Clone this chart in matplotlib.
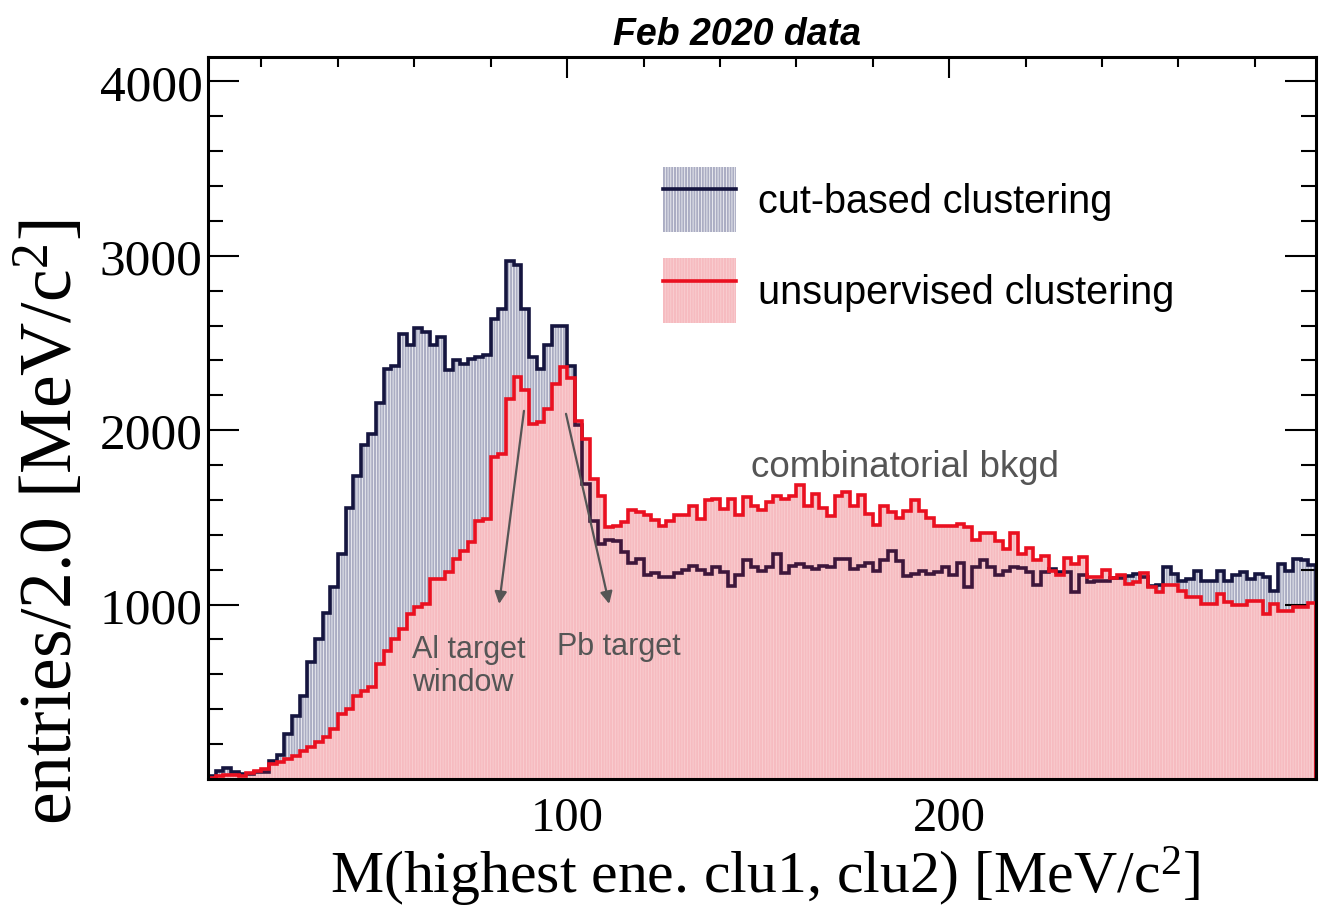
import numpy as np
import matplotlib
matplotlib.use("Agg")
import matplotlib.pyplot as plt
from matplotlib.patches import Patch
from matplotlib.lines import Line2D
from matplotlib.legend_handler import HandlerTuple
from matplotlib.ticker import MultipleLocator, FixedLocator

# binning, 2.0 MeV/c^2 per bin
x_lo, x_hi, bin_w = 6.0, 296.0, 2.0
edges = np.arange(x_lo, x_hi + bin_w / 2, bin_w)

# entries per bin, cut-based clustering
cut_based = [
    19, 48, 61, 42, 29, 29, 38, 38, 105, 138,
    258, 363, 478, 673, 803, 952, 1103, 1291, 1553, 1740,
    1916, 1979, 2157, 2352, 2371, 2553, 2486, 2586, 2563, 2486,
    2534, 2343, 2400, 2381, 2410, 2419, 2433, 2639, 2697, 2968,
    2945, 2697, 2419, 2352, 2486, 2597, 2597, 2371, 2030, 1692,
    1480, 1350, 1370, 1367, 1300, 1240, 1260, 1170, 1180, 1160,
    1160, 1180, 1200, 1224, 1200, 1176, 1214, 1186, 1109, 1167,
    1253, 1214, 1190, 1214, 1291, 1182, 1224, 1230, 1214, 1205,
    1224, 1214, 1262, 1262, 1205, 1224, 1239, 1190, 1253, 1310,
    1250, 1163, 1176, 1195, 1176, 1185, 1214, 1171, 1239, 1100,
    1214, 1258, 1218, 1171, 1195, 1218, 1208, 1186, 1113, 1186,
    1205, 1186, 1186, 1071, 1167, 1128, 1138, 1138, 1151, 1151,
    1163, 1176, 1157, 1109, 1113, 1218, 1176, 1138, 1147, 1195,
    1138, 1138, 1195, 1138, 1167, 1186, 1147, 1176, 1157, 1080,
    1234, 1195, 1262, 1253, 1228]

# entries per bin, unsupervised clustering
unsupervised = [
    5, 15, 25, 25, 20, 35, 45, 55, 86, 100,
    115, 134, 163, 182, 210, 239, 287, 373, 402, 478,
    507, 526, 660, 736, 800, 861, 947, 985, 1004, 1147,
    1147, 1186, 1262, 1310, 1358, 1482, 1492, 1845, 1865, 2180,
    2305, 2228, 2037, 2046, 2123, 2266, 2362, 2300, 2050, 1951,
    1721, 1620, 1444, 1453, 1475, 1545, 1530, 1511, 1487, 1452,
    1482, 1511, 1515, 1568, 1490, 1597, 1606, 1549, 1606, 1511,
    1616, 1564, 1545, 1591, 1622, 1606, 1622, 1683, 1564, 1635,
    1553, 1507, 1625, 1645, 1564, 1629, 1520, 1457, 1564, 1530,
    1496, 1535, 1597, 1535, 1496, 1450, 1450, 1453, 1460, 1443,
    1371, 1411, 1411, 1367, 1320, 1411, 1291, 1324, 1253, 1277,
    1195, 1172, 1266, 1234, 1272, 1157, 1157, 1200, 1151, 1172,
    1119, 1128, 1182, 1100, 1071, 1113, 1113, 1080, 1042, 1042,
    1004, 1004, 1061, 1013, 995, 995, 1023, 1023, 946, 1004,
    966, 966, 985, 985, 1010]

labels = ["cut-based clustering", "unsupervised clustering"]

plt.rcParams['font.family'] = ['Liberation Serif', 'DejaVu Serif']
plt.rcParams['mathtext.fontset'] = 'custom'
plt.rcParams['mathtext.rm'] = 'Liberation Serif'
plt.rcParams['mathtext.it'] = 'Liberation Serif:italic'
plt.rcParams['hatch.linewidth'] = 0.5
SANS = ['Liberation Sans', 'DejaVu Sans']

blue_fill = '#abadc3'
blue_line = '#15153f'
red_base = '#fae3e5'
red_tint = (0.9, 0.12, 0.18, 0.2)
red_line = '#ea1020'
hatch = '||||||'

fig = plt.figure(figsize=(13.35, 9.2), dpi=100)
ax = fig.add_axes([208 / 1335, 1 - 780 / 920, 1108 / 1335, 722 / 920])

#histograms: fills, then the blue outline seen through a red tint
ax.stairs(cut_based, edges, fill=True, facecolor=blue_fill, edgecolor='white',
          hatch=hatch, linewidth=0, zorder=1)
ax.stairs(unsupervised, edges, fill=True, facecolor=red_base, edgecolor='white',
          hatch=hatch, linewidth=0, zorder=2)
ax.stairs(cut_based, edges, color=blue_line, linewidth=2.6, zorder=3)
ax.stairs(unsupervised, edges, fill=True, facecolor=red_tint, linewidth=0, zorder=4)
ax.stairs(unsupervised, edges, color=red_line, linewidth=2.6, zorder=5)

ax.set_xlim(x_lo, x_hi)
ax.set_ylim(0, 4140)

#ROOT style axes
ax.xaxis.set_major_locator(MultipleLocator(100))
ax.xaxis.set_minor_locator(MultipleLocator(20))
ax.yaxis.set_major_locator(FixedLocator([1000, 2000, 3000, 4000]))
ax.yaxis.set_minor_locator(MultipleLocator(200))
ax.tick_params(which='both', direction='in', top=True, right=True, width=1.5, colors='black')
ax.tick_params(axis='y', which='major', length=22, labelsize=37, pad=4)
ax.tick_params(axis='y', which='minor', length=11)
ax.tick_params(axis='x', which='major', length=15, labelsize=35, pad=12)
ax.tick_params(axis='x', which='minor', length=7.5)
for s in ax.spines.values():
    s.set_linewidth(2.2)
    s.set_zorder(10)

fig.text(765 / 1335, 1 - 877 / 920, r'M(highest ene. clu1, clu2) [MeV/c$^{2}$]',
         fontsize=43, ha='center', va='center')
fig.text(52 / 1335, 1 - 522 / 920, r'entries/2.0 [MeV/c$^{2}$]',
         fontsize=53, ha='center', va='center', rotation=90)
fig.text(737 / 1335, 1 - 35 / 920, 'Feb 2020 data', family=SANS, fontsize=27,
         fontweight='bold', fontstyle='italic', ha='center', va='center')

#legend
handles = [
    (Patch(facecolor=blue_fill, edgecolor='white', hatch=hatch, linewidth=0),
     Line2D([], [], color=blue_line, linewidth=2.6)),
    (Patch(facecolor=red_base, edgecolor='white', hatch=hatch, linewidth=0),
     Patch(facecolor=red_tint, linewidth=0),
     Line2D([], [], color=red_line, linewidth=2.6)),
]
ax.legend(handles, labels, handler_map={tuple: HandlerTuple(ndivide=1)},
          loc='upper left', bbox_to_anchor=(0.4107, 0.8476), frameon=False,
          prop={'family': SANS, 'size': 28.5}, handlelength=1.85, handleheight=2.15,
          handletextpad=0.55, labelspacing=0.66, borderpad=0, borderaxespad=0)

#annotations
note_c = '#555555'
ax.text(148.2, 1790, 'combinatorial bkgd', family=SANS, fontsize=26.5, color=note_c,
        ha='left', va='center', zorder=6)
ax.text(59.4, 650, 'Al target\nwindow', family=SANS, fontsize=22, color=note_c,
        ha='left', va='center', linespacing=1.15, zorder=6)
ax.text(97.4, 763, 'Pb target', family=SANS, fontsize=22, color=note_c,
        ha='left', va='center', zorder=6)
arrow = dict(arrowstyle='-|>', color=note_c, lw=1.6, mutation_scale=18, shrinkA=0, shrinkB=0)
ax.annotate('', xy=(82.2, 1004), xytext=(88.7, 2111), arrowprops=arrow, zorder=6)
ax.annotate('', xy=(111.0, 1004), xytext=(99.7, 2094), arrowprops=arrow, zorder=6)

fig.savefig('out.png', dpi=100)
